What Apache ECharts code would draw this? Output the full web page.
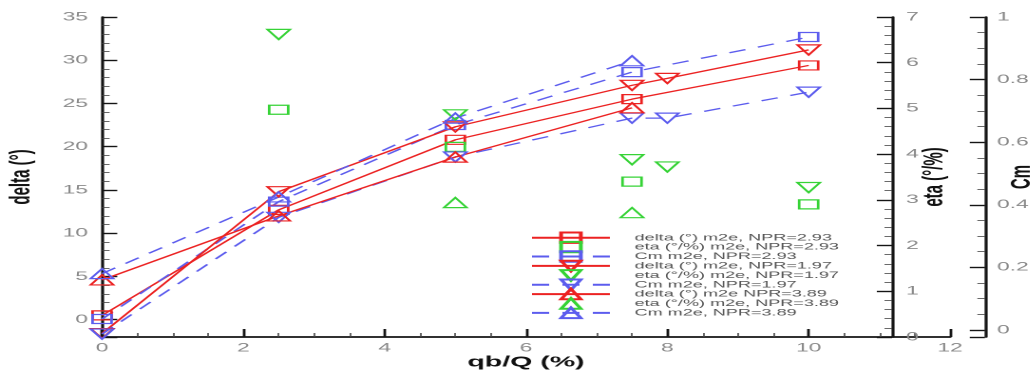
<!DOCTYPE html>
<html>
<head>
<meta charset="utf-8">
<script src="https://cdn.jsdelivr.net/npm/echarts@6/dist/echarts.min.js"></script>
<style>
html,body{margin:0;padding:0;background:#fff;overflow:hidden;}
#wrap{width:1035px;height:371px;overflow:hidden;position:relative;}
#c{width:545px;height:371px;transform:scaleX(1.9);transform-origin:0 0;}
</style>
</head>
<body>
<div id="wrap"><div id="c"></div></div>
<script>
// ---- data ----
const xNPR293 = [0, 2.5, 5, 7.5, 10];
const xNPR197 = [0, 2.5, 5, 7.5, 8, 10];
const xNPR389 = [0, 2.5, 5, 7.5];

const delta293 = [0.5, 12.7, 20.8, 25.5, 29.4];
const eta293   = [null, 4.97, 4.16, 3.40, 2.90];
const cm293    = [0.035, 0.41, 0.655, 0.824, 0.936];

const delta197 = [-1.6, 14.8, 22.3, 27.1, 27.9, 31.2];
const eta197   = [null, 6.62, 4.86, 3.88, 3.72, 3.27];
const cm197    = [-0.013, 0.36, 0.553, 0.677, 0.677, 0.76];

const delta389 = [4.6, 12.0, 18.8, 24.5];
const eta389   = [null, null, 2.94, 2.72];
const cm389    = [0.18, 0.425, 0.677, 0.86];

const seriesNames = [
  'delta (°) m2e, NPR=2.93', 'eta (°/%) m2e, NPR=2.93', 'Cm m2e, NPR=2.93',
  'delta (°) m2e, NPR=1.97', 'eta (°/%) m2e, NPR=1.97', 'Cm m2e, NPR=1.97',
  'delta (°) m2e NPR=3.89',  'eta (°/%) m2e, NPR=3.89', 'Cm m2e, NPR=3.89'
];
const axisNames = ['qb/Q (%)', 'delta (°)', 'eta (°/%)', 'Cm'];

// ---- styling ----
const RED = '#ec2222', GREEN = '#36d336', BLUE = '#5c5cee';
const SQ = 'rect', UP = 'triangle', DOWN = 'path://M0,0L20,0L10,10Z';
const SQ_SIZE = [10, 9], TRI_SIZE = [12, 10];
const FONT = 'Liberation Sans';

function pairs(xs, ys) {
  return xs.map((x, i) => [x, ys[i]]).filter(p => p[1] !== null);
}

function mk(name, xs, ys, yIdx, color, symbol, kind) {
  const isTri = symbol !== SQ;
  const s = {
    name: name, type: 'line', yAxisIndex: yIdx, data: pairs(xs, ys),
    symbol: symbol, symbolSize: isTri ? TRI_SIZE : SQ_SIZE, showSymbol: true, showAllSymbol: true,
    clip: false, animation: false, silent: true,
    itemStyle: {color: 'rgba(255,255,255,0)', borderColor: color, borderWidth: 1.3},
    emphasis: {disabled: true},
    z: 3
  };
  if (kind === 'solid') s.lineStyle = {color: color, width: 1.3, type: 'solid'};
  else if (kind === 'dash') s.lineStyle = {color: BLUE, width: 1.3, type: [9, 7]};
  else s.lineStyle = {color: 'rgba(0,0,0,0)', width: 0, opacity: 0};
  return s;
}

const series = [
  mk(seriesNames[0], xNPR293, delta293, 0, RED, SQ, 'solid'),
  mk(seriesNames[1], xNPR293, eta293, 1, GREEN, SQ, 'none'),
  mk(seriesNames[2], xNPR293, cm293, 2, BLUE, SQ, 'dash'),
  mk(seriesNames[3], xNPR197, delta197, 0, RED, DOWN, 'solid'),
  mk(seriesNames[4], xNPR197, eta197, 1, GREEN, DOWN, 'none'),
  mk(seriesNames[5], xNPR197, cm197, 2, BLUE, DOWN, 'dash'),
  mk(seriesNames[6], xNPR389, delta389, 0, RED, UP, 'solid'),
  mk(seriesNames[7], xNPR389, eta389, 1, GREEN, UP, 'none'),
  mk(seriesNames[8], xNPR389, cm389, 2, BLUE, UP, 'dash')
];

const AX = '#151515', LAB = '#8a8a8a';
const axisLine = {show: true, onZero: false, lineStyle: {color: AX, width: 1.6}};
const nameStyle = {fontSize: 15, fontWeight: 'bold', color: '#111', fontFamily: FONT};
function yAx(extra) {
  return Object.assign({
    type: 'value', axisLine: axisLine,
    axisTick: {show: true, inside: true, length: 8, lineStyle: {color: AX, width: 1.4}},
    minorTick: {show: true, inside: true, length: 4, lineStyle: {color: '#444', width: 0.8}},
    splitLine: {show: false}, minorSplitLine: {show: false},
    nameLocation: 'middle', nameRotate: 90, nameTextStyle: nameStyle, nameMoveOverlap: false
  }, extra);
}

const chart = echarts.init(document.getElementById('c'), null, {renderer: 'canvas', devicePixelRatio: 2});
chart.setOption({
  animation: false,
  backgroundColor: '#fff',
  grid: {left: 53.7, right: 45, top: 17, bottom: 34, containLabel: false, outerBoundsMode: 'none'},
  legend: {
    data: seriesNames, orient: 'vertical', left: 279, top: 231.5, padding: 0,
    itemWidth: 41, itemHeight: 13, itemGap: -3, selectedMode: false,
    textStyle: {fontSize: 9.5, lineHeight: 10, color: '#555', fontFamily: FONT, padding: [0, 0, 0, 8]}
  },
  xAxis: {
    type: 'value', min: 0, max: 12, interval: 2,
    axisLine: {show: true, onZero: false, lineStyle: {color: AX, width: 1.8}},
    axisTick: {show: true, inside: true, length: 8, lineStyle: {color: AX, width: 1.4}},
    minorTick: {show: true, splitNumber: 4, length: 4, lineStyle: {color: '#444', width: 0.8}},
    splitLine: {show: false}, minorSplitLine: {show: false},
    axisLabel: {color: LAB, fontSize: 12, margin: 5, fontFamily: FONT},
    name: axisNames[0], nameLocation: 'middle', nameGap: 18, nameTextStyle: nameStyle, nameMoveOverlap: false
  },
  yAxis: [
    yAx({position: 'left', min: -2, max: 35, splitNumber: 7,
         minorTick: {show: true, splitNumber: 5, length: 4, lineStyle: {color: '#444', width: 0.8}},
         axisLabel: {color: LAB, fontSize: 12, margin: 7.4, fontFamily: FONT, showMinLabel: false},
         name: axisNames[1], nameGap: 35}),
    yAx({position: 'right', offset: -30.5, min: 0, max: 7, interval: 1,
         minorTick: {show: true, splitNumber: 5, length: 4, lineStyle: {color: '#444', width: 0.8}},
         axisLabel: {color: LAB, fontSize: 12, margin: 7.4, fontFamily: FONT},
         name: axisNames[2], nameGap: 15}),
    yAx({position: 'right', offset: 18.4, min: -0.0224, max: 1, splitNumber: 5,
         minorTick: {show: true, splitNumber: 4, length: 4, lineStyle: {color: '#444', width: 0.8}},
         axisLabel: {color: LAB, fontSize: 12, margin: 6.3, fontFamily: FONT, showMinLabel: false},
         name: axisNames[3], nameGap: 12})
  ],
  series: series
});
</script>
</body>
</html>
